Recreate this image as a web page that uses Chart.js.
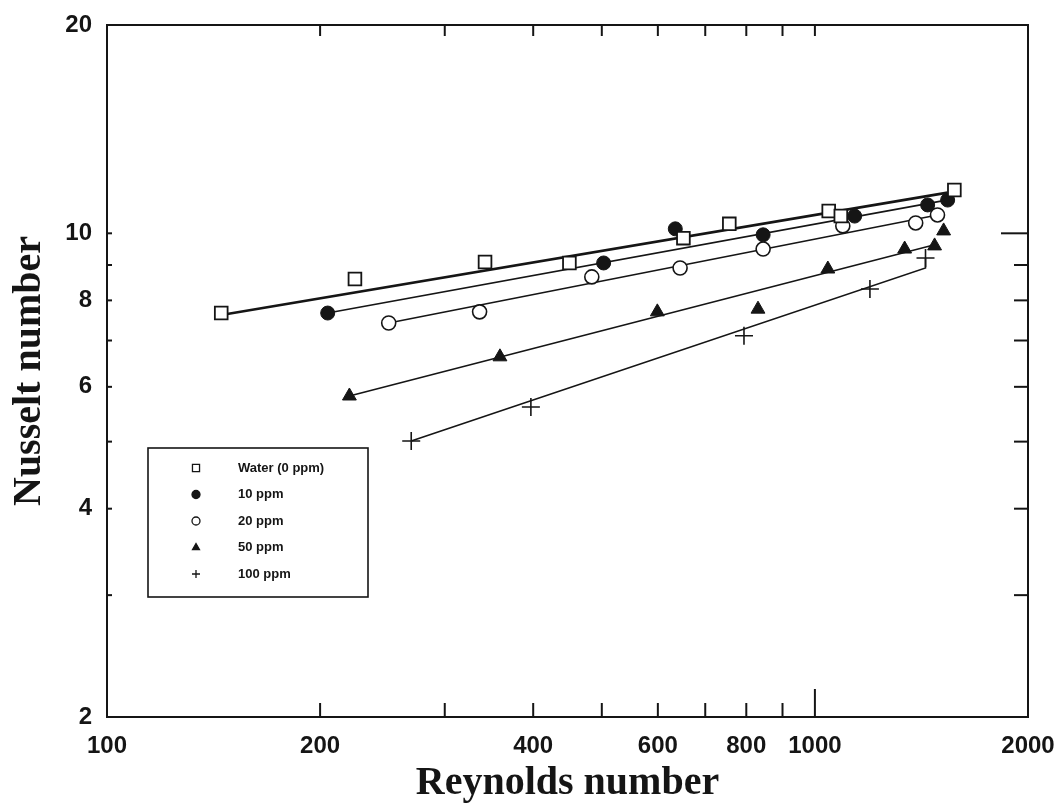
<!DOCTYPE html>
<html>
<head>
<meta charset="utf-8">
<script src="https://cdn.jsdelivr.net/npm/chart.js@4.4.0/dist/chart.umd.min.js"></script>
<style>
  html, body { margin: 0; padding: 0; background: #fff; }
</style>
</head>
<body>
<canvas id="myChart" width="1063" height="808"></canvas>
<script>
// measured points (Reynolds number, Nusselt number)
let waterRe = [145, 224, 342, 450, 652, 757, 1046, 1088, 1574];
let waterNu = [7.67, 8.59, 9.09, 9.06, 9.84, 10.32, 10.77, 10.59, 11.55];
let ppm10Re = [205, 503, 635, 845, 1138, 1443, 1540];
let ppm10Nu = [7.67, 9.06, 10.15, 9.95, 10.59, 10.99, 11.17];
let ppm20Re = [250, 336, 484, 645, 845, 1095, 1388, 1490];
let ppm20Nu = [7.42, 7.70, 8.65, 8.91, 9.49, 10.25, 10.35, 10.63];
let ppm50Re = [220, 359, 599, 831, 1043, 1339, 1476, 1520];
let ppm50Nu = [5.82, 6.63, 7.70, 7.77, 8.88, 9.49, 9.59, 10.08];
let ppm100Re = [269, 397, 794, 1196, 1433];
let ppm100Nu = [5.01, 5.61, 7.11, 8.31, 9.21];

// fitted lines
let waterFitRe = [145, 1540];
let waterFitNu = [7.62, 11.45];
let ppm10FitRe = [205, 1514];
let ppm10FitNu = [7.67, 11.14];
let ppm20FitRe = [250, 1490];
let ppm20FitNu = [7.42, 10.63];
let ppm50FitRe = [220, 1490];
let ppm50FitNu = [5.82, 9.65];
let ppm100FitRe = [269, 1433, 1433];
let ppm100FitNu = [5.01, 8.91, 9.21];

let seriesNames = ['Water (0 ppm)', '10 ppm', '20 ppm', '50 ppm', '100 ppm'];

let xTicks = [100, 200, 300, 400, 500, 600, 700, 800, 900, 1000, 2000];
let xLabels = [100, 200, 400, 600, 800, 1000, 2000];
let yTicks = [2, 3, 4, 5, 6, 7, 8, 9, 10, 20];
let yLabels = [2, 4, 6, 8, 10, 20];

const ink = '#151515';

function toPoints(xs, ys){
    let pts = [];
    xs.forEach(function(v, i){
        pts.push({x: v, y: ys[i]});
    });
    return pts;
}

function markerSet(name, xs, ys, style, radius, fill, bw){
    return {
        label: name,
        data: toPoints(xs, ys),
        showLine: false,
        pointStyle: style,
        pointRadius: radius,
        pointBackgroundColor: fill,
        pointBorderColor: ink,
        pointBorderWidth: bw,
        order: 0
    };
}

function fitSet(xs, ys, width){
    return {
        label: '',
        data: toPoints(xs, ys),
        showLine: true,
        borderColor: ink,
        borderWidth: width,
        pointRadius: 0,
        fill: false,
        order: 1
    };
}

let markers = [
    markerSet(seriesNames[0], waterRe, waterNu, 'rect', 9, '#fff', 1.8),
    markerSet(seriesNames[1], ppm10Re, ppm10Nu, 'circle', 7, ink, 1),
    markerSet(seriesNames[2], ppm20Re, ppm20Nu, 'circle', 7, '#fff', 1.6),
    markerSet(seriesNames[3], ppm50Re, ppm50Nu, 'triangle', 8, ink, 1),
    markerSet(seriesNames[4], ppm100Re, ppm100Nu, 'cross', 9, ink, 1.6)
];

let fits = [
    fitSet(waterFitRe, waterFitNu, 2.6),
    fitSet(ppm10FitRe, ppm10FitNu, 1.6),
    fitSet(ppm20FitRe, ppm20FitNu, 1.6),
    fitSet(ppm50FitRe, ppm50FitNu, 1.6),
    fitSet(ppm100FitRe, ppm100FitNu, 1.6)
];

// frame and inward tick marks
const frameTicks = {
    id: 'frameTicks',
    afterDraw(chart){
        let ctx = chart.ctx;
        let a = chart.chartArea;
        let x = chart.scales.x;
        let y = chart.scales.y;
        function seg(x1, y1, x2, y2){
            ctx.beginPath();
            ctx.moveTo(x1, y1);
            ctx.lineTo(x2, y2);
            ctx.stroke();
        }
        ctx.save();
        ctx.strokeStyle = ink;
        ctx.lineWidth = 2;
        ctx.strokeRect(a.left, a.top, a.right - a.left, a.bottom - a.top);
        xTicks.forEach(function(v){
            if (v <= 100 || v >= 2000) return;
            let px = x.getPixelForValue(v);
            seg(px, a.bottom, px, a.bottom - (v === 1000 ? 28 : 14));
            seg(px, a.top, px, a.top + 11);
        });
        yTicks.forEach(function(v){
            if (v <= 2 || v >= 20) return;
            let py = y.getPixelForValue(v);
            seg(a.left, py, a.left + 5, py);
            seg(a.right, py, a.right - (v === 10 ? 27 : 14), py);
        });
        ctx.restore();
    }
};

// legend box inside the plot
const boxLegend = {
    id: 'boxLegend',
    afterDraw(chart){
        let ctx = chart.ctx;
        let a = chart.chartArea;
        let left = a.left + 41;
        let top = a.top + 423;
        ctx.save();
        ctx.strokeStyle = ink;
        ctx.lineWidth = 1.6;
        ctx.fillStyle = '#fff';
        ctx.fillRect(left, top, 220, 149);
        ctx.strokeRect(left, top, 220, 149);
        ctx.font = 'bold 13px "Liberation Sans", Arial, sans-serif';
        ctx.textBaseline = 'middle';
        markers.forEach(function(ds, i){
            let cy = top + 20 + i * 26.5;
            ctx.fillStyle = ds.pointBackgroundColor;
            ctx.strokeStyle = ink;
            ctx.lineWidth = 1.3;
            Chart.helpers.drawPoint(ctx, {
                pointStyle: ds.pointStyle,
                radius: ds.pointStyle === 'rect' ? 5 : 4,
                rotation: 0,
                borderWidth: 1.3
            }, left + 48, cy);
            ctx.fillStyle = ink;
            ctx.fillText(ds.label, left + 90, cy);
        });
        ctx.restore();
    }
};

let tickFont = {family: '"Liberation Sans", Arial, sans-serif', size: 24, weight: 'bold'};
let titleFont = {family: '"Liberation Serif", "Times New Roman", serif', size: 40, weight: 'bold'};

let config = {
    type: 'scatter',
    data: {datasets: markers.concat(fits)},
    options: {
        responsive: false,
        animation: false,
        layout: {padding: {top: 25, right: 35, left: 0, bottom: 0}},
        plugins: {
            legend: {display: false},
            tooltip: {enabled: false}
        },
        scales: {
            x: {
                type: 'logarithmic',
                min: 100,
                max: 2000,
                afterBuildTicks: function(scale){
                    scale.ticks = xTicks.map(function(v){ return {value: v}; });
                },
                afterFit: function(scale){
                    scale.height = 91;
                    scale.paddingLeft = 0;
                    scale.paddingRight = 0;
                },
                grid: {display: false, drawTicks: false},
                border: {display: true, color: ink, width: 2},
                ticks: {
                    autoSkip: false,
                    maxRotation: 0,
                    padding: 15,
                    color: ink,
                    font: tickFont,
                    callback: function(v){ return xLabels.includes(v) ? String(v) : ''; }
                },
                title: {display: true, text: 'Reynolds number', color: ink, font: titleFont, padding: {top: 0, bottom: 0}}
            },
            y: {
                type: 'logarithmic',
                min: 2,
                max: 20,
                afterBuildTicks: function(scale){
                    scale.ticks = yTicks.map(function(v){ return {value: v}; });
                },
                afterFit: function(scale){
                    scale.width = 107;
                    scale.paddingTop = 0;
                    scale.paddingBottom = 0;
                },
                grid: {display: false, drawTicks: false},
                border: {display: true, color: ink, width: 2},
                ticks: {
                    autoSkip: false,
                    padding: 15,
                    color: ink,
                    font: tickFont,
                    callback: function(v){ return yLabels.includes(v) ? String(v) : ''; }
                },
                title: {display: true, text: 'Nusselt number', color: ink, font: titleFont, padding: {top: 6, bottom: 0}}
            }
        }
    },
    plugins: [frameTicks, boxLegend]
};

let myChart = new Chart(document.getElementById('myChart'), config);
</script>
</body>
</html>
